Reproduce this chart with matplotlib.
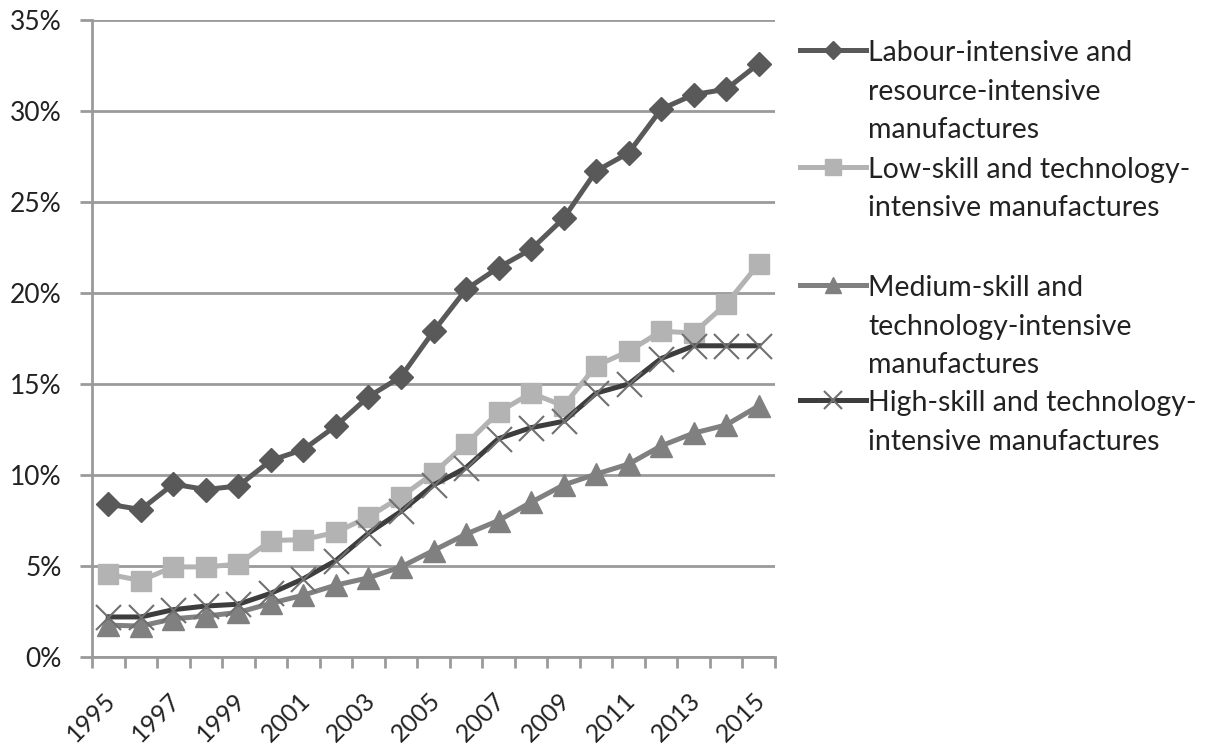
import matplotlib
matplotlib.use("Agg")
import matplotlib.pyplot as plt
from matplotlib.lines import Line2D
from matplotlib.ticker import FixedLocator, PercentFormatter
from matplotlib.transforms import ScaledTranslation
import numpy as np

plt.rcParams['font.family'] = ['Lato', 'DejaVu Sans']

years = list(range(1995, 2016))
labour = [8.4, 8.1, 9.5, 9.2, 9.4, 10.8, 11.4, 12.7, 14.3, 15.4, 17.9, 20.2, 21.4,
          22.4, 24.1, 26.7, 27.7, 30.1, 30.9, 31.2, 32.6]
low_skill = [4.55, 4.2, 4.95, 4.95, 5.1, 6.4, 6.45, 6.85, 7.7, 8.8, 10.1, 11.7, 13.45,
             14.5, 13.8, 16.0, 16.8, 17.9, 17.8, 19.4, 21.6]
medium_skill = [1.75, 1.7, 2.1, 2.25, 2.45, 2.95, 3.4, 3.95, 4.35, 4.95, 5.85, 6.75, 7.5,
                8.5, 9.45, 10.05, 10.6, 11.6, 12.3, 12.75, 13.8]
high_skill = [2.2, 2.2, 2.6, 2.8, 2.9, 3.5, 4.3, 5.3, 6.8, 8.0, 9.45, 10.4, 12.0,
              12.6, 12.95, 14.5, 15.0, 16.4, 17.1, 17.1, 17.1]

names = [["Labour-intensive and", "resource-intensive", "manufactures"],
         ["Low-skill and technology-", "intensive manufactures"],
         ["Medium-skill and", "technology-intensive", "manufactures"],
         ["High-skill and technology-", "intensive manufactures"]]

W, H = 1207, 745
fig = plt.figure(figsize=(W / 100, H / 100), dpi=100)
ax = fig.add_axes([92 / W, 1 - 657 / H, (775 - 92) / W, (657 - 20) / H])

x = np.arange(len(years))
styles = [
    dict(color="#595959", marker="D", markersize=12.5, mfc="#595959", mec="#595959"),
    dict(color="#b3b3b3", marker="s", markersize=15, mfc="#b3b3b3", mec="#b3b3b3"),
    dict(color="#808080", marker="^", markersize=16, mfc="#808080", mec="#808080"),
    dict(color="#3d3d3d", marker="x", markersize=18, mfc="none", mec="#707070", mew=1.5),
]
for vals, st in zip([labour, low_skill, medium_skill, high_skill], styles):
    ax.plot(x, vals, linewidth=3.6, zorder=3, **st)

ax.set_xlim(-0.5, len(years) - 0.5)
ax.set_ylim(0, 35)
ax.yaxis.set_major_locator(FixedLocator(np.arange(0, 36, 5)))
ax.yaxis.set_major_formatter(PercentFormatter(decimals=0))
ax.grid(axis="y", color="#9a9a9a", linewidth=2)
ax.set_axisbelow(True)

ax.set_xticks(x[::2])
ax.set_xticklabels([str(y) for y in years[::2]], rotation=45, ha="right",
                   va="top", rotation_mode="anchor")
ax.set_xticks(np.arange(-0.5, len(years)), minor=True)
ax.tick_params(axis="x", which="major", length=0, pad=19, labelsize=18, labelcolor="#222222")
ax.tick_params(axis="x", which="minor", length=8, width=2, color="#9a9a9a")
ax.tick_params(axis="y", length=9, width=2, color="#9a9a9a", labelsize=19, pad=13,
               labelcolor="#222222")
shift = ScaledTranslation(-0.05, -0.05, fig.dpi_scale_trans)
for lab in ax.get_xticklabels():
    lab.set_transform(lab.get_transform() + shift)

for s in ["top", "right"]:
    ax.spines[s].set_visible(False)
for s in ["left", "bottom"]:
    ax.spines[s].set_color("#9a9a9a")
    ax.spines[s].set_linewidth(2)

# legend drawn by hand to keep Excel's uneven spacing
leg_y = [50, 167, 285, 400]
for lines, st, yy in zip(names, styles, leg_y):
    yf = 1 - yy / H
    ln = Line2D([800 / W, 833 / W, 866 / W], [yf, yf, yf], transform=fig.transFigure,
                linewidth=3.6, markevery=[1], **st)
    ln.set_markersize(st["markersize"] * 0.75)
    fig.add_artist(ln)
    for k, txt in enumerate(lines):
        fig.text(868 / W, 1 - (yy + 11 + 38.5 * k) / H, txt, ha="left", va="baseline",
                 fontsize=20.5, color="#222222")

fig.savefig("out.png", dpi=100)
